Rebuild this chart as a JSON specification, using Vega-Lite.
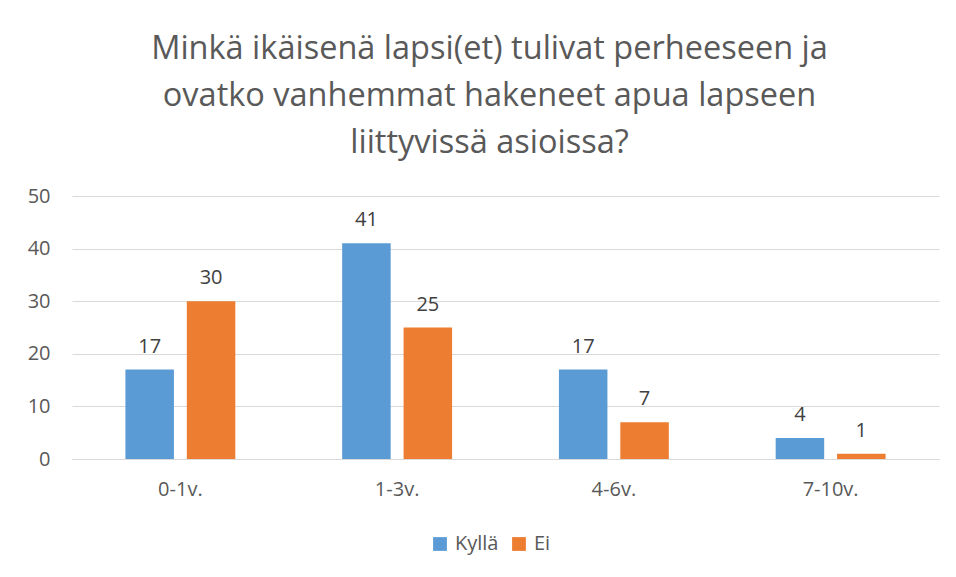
{
  "$schema": "https://vega.github.io/schema/vega-lite/v6.json",
  "autosize": "none",
  "width": 867,
  "height": 263,
  "padding": {"left": 72, "top": 196, "right": 17, "bottom": 118},
  "background": "white",
  "title": {
    "text": ["Minkä ikäisenä lapsi(et) tulivat perheeseen ja", "ovatko vanhemmat hakeneet apua lapseen", "liittyvissä asioissa?"],
    "font": "Open Sans",
    "fontSize": 32.5,
    "fontWeight": "normal",
    "color": "#595959",
    "lineHeight": 47,
    "anchor": "middle",
    "frame": "group",
    "dx": -16,
    "offset": 27
  },
  "data": {
    "values": [
      {"ika": "0-1v.", "vastaus": "Kyllä", "n": 17},
      {"ika": "0-1v.", "vastaus": "Ei", "n": 30},
      {"ika": "1-3v.", "vastaus": "Kyllä", "n": 41},
      {"ika": "1-3v.", "vastaus": "Ei", "n": 25},
      {"ika": "4-6v.", "vastaus": "Kyllä", "n": 17},
      {"ika": "4-6v.", "vastaus": "Ei", "n": 7},
      {"ika": "7-10v.", "vastaus": "Kyllä", "n": 4},
      {"ika": "7-10v.", "vastaus": "Ei", "n": 1}
    ]
  },
  "encoding": {
    "x": {
      "field": "ika", "type": "nominal", "sort": null,
      "scale": {"paddingInner": 0, "paddingOuter": 0},
      "axis": {"title": null, "labelAngle": 0, "labelFont": "Open Sans", "labelFontSize": 20, "labelColor": "#595959", "labelPadding": 20, "ticks": false, "domain": true, "domainColor": "#d9d9d9", "grid": false}
    },
    "xOffset": {
      "field": "vastaus", "type": "nominal", "sort": ["Kyllä", "Ei"],
      "scale": {"paddingInner": 0.21, "paddingOuter": 0.87}
    },
    "y": {
      "field": "n", "type": "quantitative",
      "scale": {"domain": [0, 50], "nice": false},
      "axis": {"title": null, "values": [0, 10, 20, 30, 40, 50], "labelFont": "Open Sans", "labelFontSize": 20, "labelColor": "#595959", "labelPadding": 22, "ticks": false, "domain": false, "gridColor": "#d9d9d9", "gridWidth": 1}
    }
  },
  "layer": [
    {
      "mark": {"type": "bar"},
      "encoding": {
        "color": {
          "field": "vastaus", "type": "nominal", "sort": ["Kyllä", "Ei"],
          "scale": {"domain": ["Kyllä", "Ei"], "range": ["#5B9BD5", "#ED7D31"]},
          "legend": {"title": null, "orient": "none", "direction": "horizontal", "legendX": 358, "legendY": 338, "symbolType": "square", "symbolSize": 190, "symbolStrokeWidth": 0, "labelFont": "Open Sans", "labelFontSize": 20, "labelColor": "#595959", "columnPadding": 10, "labelOffset": 5}
        }
      }
    },
    {
      "mark": {"type": "text", "baseline": "bottom", "dy": -13, "font": "Open Sans", "fontSize": 20, "color": "#404040"},
      "encoding": {"text": {"field": "n", "type": "quantitative"}}
    }
  ],
  "config": {"view": {"stroke": null}}
}
